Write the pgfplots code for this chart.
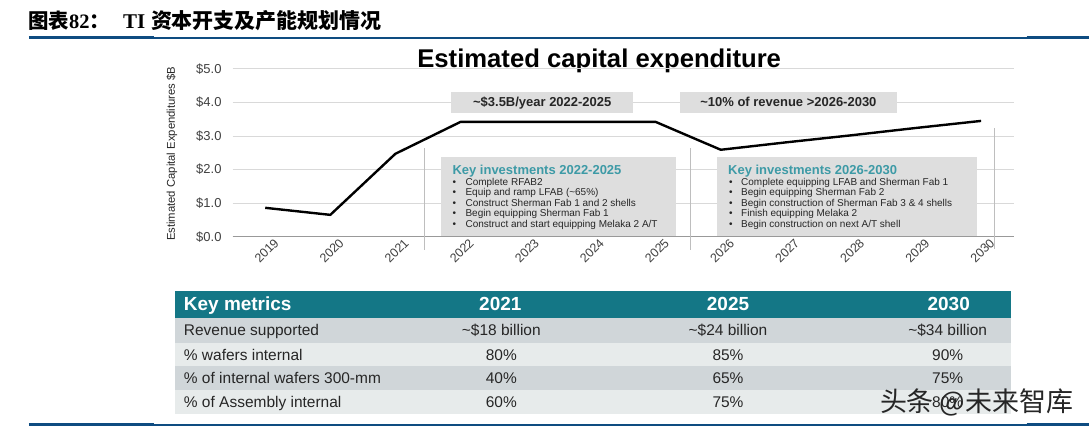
\documentclass[border=0pt]{standalone}
\usepackage{pgfplots}
\pgfplotsset{compat=1.18}
\usepackage{fontspec}
\setmainfont{Liberation Sans}
\newfontfamily\cjk{Noto Sans CJK SC}
\newfontfamily\serif{Liberation Serif}
\definecolor{headblue}{RGB}{14,76,129}
\definecolor{tealhead}{RGB}{20,119,134}
\definecolor{rowdark}{RGB}{208,214,217}
\definecolor{rowlight}{RGB}{231,235,235}
\definecolor{keybox}{RGB}{222,222,222}
\definecolor{tealtext}{RGB}{61,154,166}
\definecolor{txt}{RGB}{38,38,38}
\definecolor{ticktxt}{RGB}{64,64,64}
\definecolor{gridc}{RGB}{217,217,217}
\definecolor{sepc}{RGB}{190,190,190}
\begin{document}
\begin{tikzpicture}[x=1pt,y=1pt]
\path[fill=white] (0,0) rectangle (1090,428);
% header
\node[anchor=base west, inner sep=0] at (28,399) {\cjk\bfseries\fontsize{20.5}{24}\selectfont 图表{\serif\bfseries 82}：};
\node[anchor=base west, inner sep=0] at (123,399) {\fontsize{21}{24}\selectfont{\serif\bfseries TI} \cjk\bfseries 资本开支及产能规划情况};
\draw[headblue, line width=1.5pt] (154,390) -- (1028,390);
\draw[headblue, line width=3pt] (29,390) -- (154,390);
\draw[headblue, line width=3pt] (1028,390) -- (1090,390);
\draw[headblue, line width=1.5pt] (154,2.5) -- (1028,2.5);
\draw[headblue, line width=3pt] (29,2.5) -- (154,2.5);
\draw[headblue, line width=3pt] (1028,2.5) -- (1090,2.5);
% title
\node[anchor=base, inner sep=0] at (600,360) {\fontsize{25.7}{30}\selectfont\bfseries Estimated capital expenditure};
% y label
\node[rotate=90, inner sep=0, text=txt] at (172,274) {\fontsize{11.3}{13}\selectfont Estimated Capital Expenditures \$B};
\begin{axis}[
  at={(233pt,191pt)}, anchor=south west,
  scale only axis, width=782pt, height=168pt,
  xmin=2018.5, xmax=2030.5, ymin=0, ymax=5,
  axis x line*=bottom, axis y line*=left,
  y axis line style={draw=none},
  x axis line style={-, draw=gray!80, line width=1pt},
  xtick={2019,2020,2021,2022,2023,2024,2025,2026,2027,2028,2029,2030},
  xticklabels={2019,2020,2021,2022,2023,2024,2025,2026,2027,2028,2029,2030},
  ytick={0,1,2,3,4,5},
  yticklabel={\$\pgfmathprintnumber[assume math mode=true,fixed,fixed zerofill,precision=1]{\tick}},
  major tick length=0pt,
  ymajorgrids, grid style={draw=gridc, line width=1pt},
  yticklabel style={font=\fontsize{13}{15}\selectfont, text=ticktxt, inner sep=0pt, anchor=east, xshift=-11pt},
  xticklabel style={font=\fontsize{12.5}{14}\selectfont, text=ticktxt, rotate=45, anchor=east, inner sep=0pt, xshift=5pt, yshift=-11pt},
  clip=false,
]
\addplot[black, line width=2.4pt, no marks, line join=round] coordinates {
 (2019,0.86) (2020,0.65) (2021,2.47) (2022,3.42) (2023,3.42) (2024,3.42) (2025,3.42) (2026,2.59) (2027,2.81) (2028,3.02) (2029,3.24) (2030,3.45)};
\draw[sepc, line width=1.2pt] (axis cs:2021.45,-0.39) -- (axis cs:2021.45,2.65);
\draw[sepc, line width=1.2pt] (axis cs:2025.53,-0.39) -- (axis cs:2025.53,2.65);
\draw[sepc, line width=1.2pt] (axis cs:2030.21,-0.36) -- (axis cs:2030.21,3.24);
\end{axis}
% label boxes
\fill[keybox] (452,315) rectangle (634,336);
\node[anchor=base, inner sep=0, text=txt] at (543,321) {\fontsize{13}{15}\selectfont\bfseries \textasciitilde\$3.5B/year 2022-2025};
\fill[keybox] (681,315) rectangle (898,336);
\node[anchor=base, inner sep=0, text=txt] at (789.5,321) {\fontsize{13}{15}\selectfont\bfseries \textasciitilde10\% of revenue >2026-2030};
% key boxes
\fill[keybox] (442,191.5) rectangle (677,271);
\node[anchor=base west, inner sep=0, text=tealtext] at (453,253.5) {\fontsize{13}{15}\selectfont\bfseries Key investments 2022-2025};
\foreach \t [count=\i from 0] in {Complete RFAB2,Equip and ramp LFAB (\textasciitilde65\%),Construct Sherman Fab 1 and 2 shells,Begin equipping Sherman Fab 1,Construct and start equipping Melaka 2 A/T}{
  \node[anchor=base west, inner sep=0, text=txt] at (453,242.5-10.5*\i) {\fontsize{10}{11}\selectfont\textbullet};
  \node[anchor=base west, inner sep=0, text=txt] at (466,242.5-10.5*\i) {\fontsize{10}{11}\selectfont \t};
}
\fill[keybox] (718,191.5) rectangle (978,271);
\node[anchor=base west, inner sep=0, text=tealtext] at (729,253.5) {\fontsize{13}{15}\selectfont\bfseries Key investments 2026-2030};
\foreach \t [count=\i from 0] in {Complete equipping LFAB and Sherman Fab 1,Begin equipping Sherman Fab 2,Begin construction of Sherman Fab 3 \& 4 shells,Finish equipping Melaka 2,Begin construction on next A/T shell}{
  \node[anchor=base west, inner sep=0, text=txt] at (730,242.5-10.5*\i) {\fontsize{10}{11}\selectfont\textbullet};
  \node[anchor=base west, inner sep=0, text=txt] at (742,242.5-10.5*\i) {\fontsize{10}{11}\selectfont \t};
}
% table
\fill[tealhead] (175,110) rectangle (1012,137);
\fill[rowdark] (175,85) rectangle (1012,110);
\fill[rowlight] (175,61) rectangle (1012,85);
\fill[rowdark] (175,37) rectangle (1012,61);
\fill[rowlight] (175,13) rectangle (1012,37);
\node[anchor=base west, inner sep=0, text=white] at (184,117) {\fontsize{19}{22}\selectfont\bfseries Key metrics};
\node[anchor=base, inner sep=0, text=white] at (501,117) {\fontsize{19}{22}\selectfont\bfseries 2021};
\node[anchor=base, inner sep=0, text=white] at (729,117) {\fontsize{19}{22}\selectfont\bfseries 2025};
\node[anchor=base, inner sep=0, text=white] at (950,117) {\fontsize{19}{22}\selectfont\bfseries 2030};
\foreach \a/\b/\c/\d/\yy in {Revenue supported/\textasciitilde\$18 billion/\textasciitilde\$24 billion/\textasciitilde\$34 billion/92,
  \% wafers internal/80\%/85\%/90\%/67.5,
  \% of internal wafers 300-mm/40\%/65\%/75\%/43.5,
  \% of Assembly internal/60\%/75\%/80\%/19.5}{
  \node[anchor=base west, inner sep=0, text=txt] at (184,\yy) {\fontsize{15.5}{18}\selectfont \a};
  \node[anchor=base, inner sep=0, text=txt] at (502,\yy) {\fontsize{15.5}{18}\selectfont \b};
  \node[anchor=base, inner sep=0, text=txt] at (729,\yy) {\fontsize{15.5}{18}\selectfont \c};
  \node[anchor=base, inner sep=0, text=txt] at (949,\yy) {\fontsize{15.5}{18}\selectfont \d};
}
% watermark
\node[inner sep=0, text=black!85] at (978,25) {\cjk\fontsize{27}{30}\selectfont 头条 @未来智库};
\end{tikzpicture}
\end{document}
